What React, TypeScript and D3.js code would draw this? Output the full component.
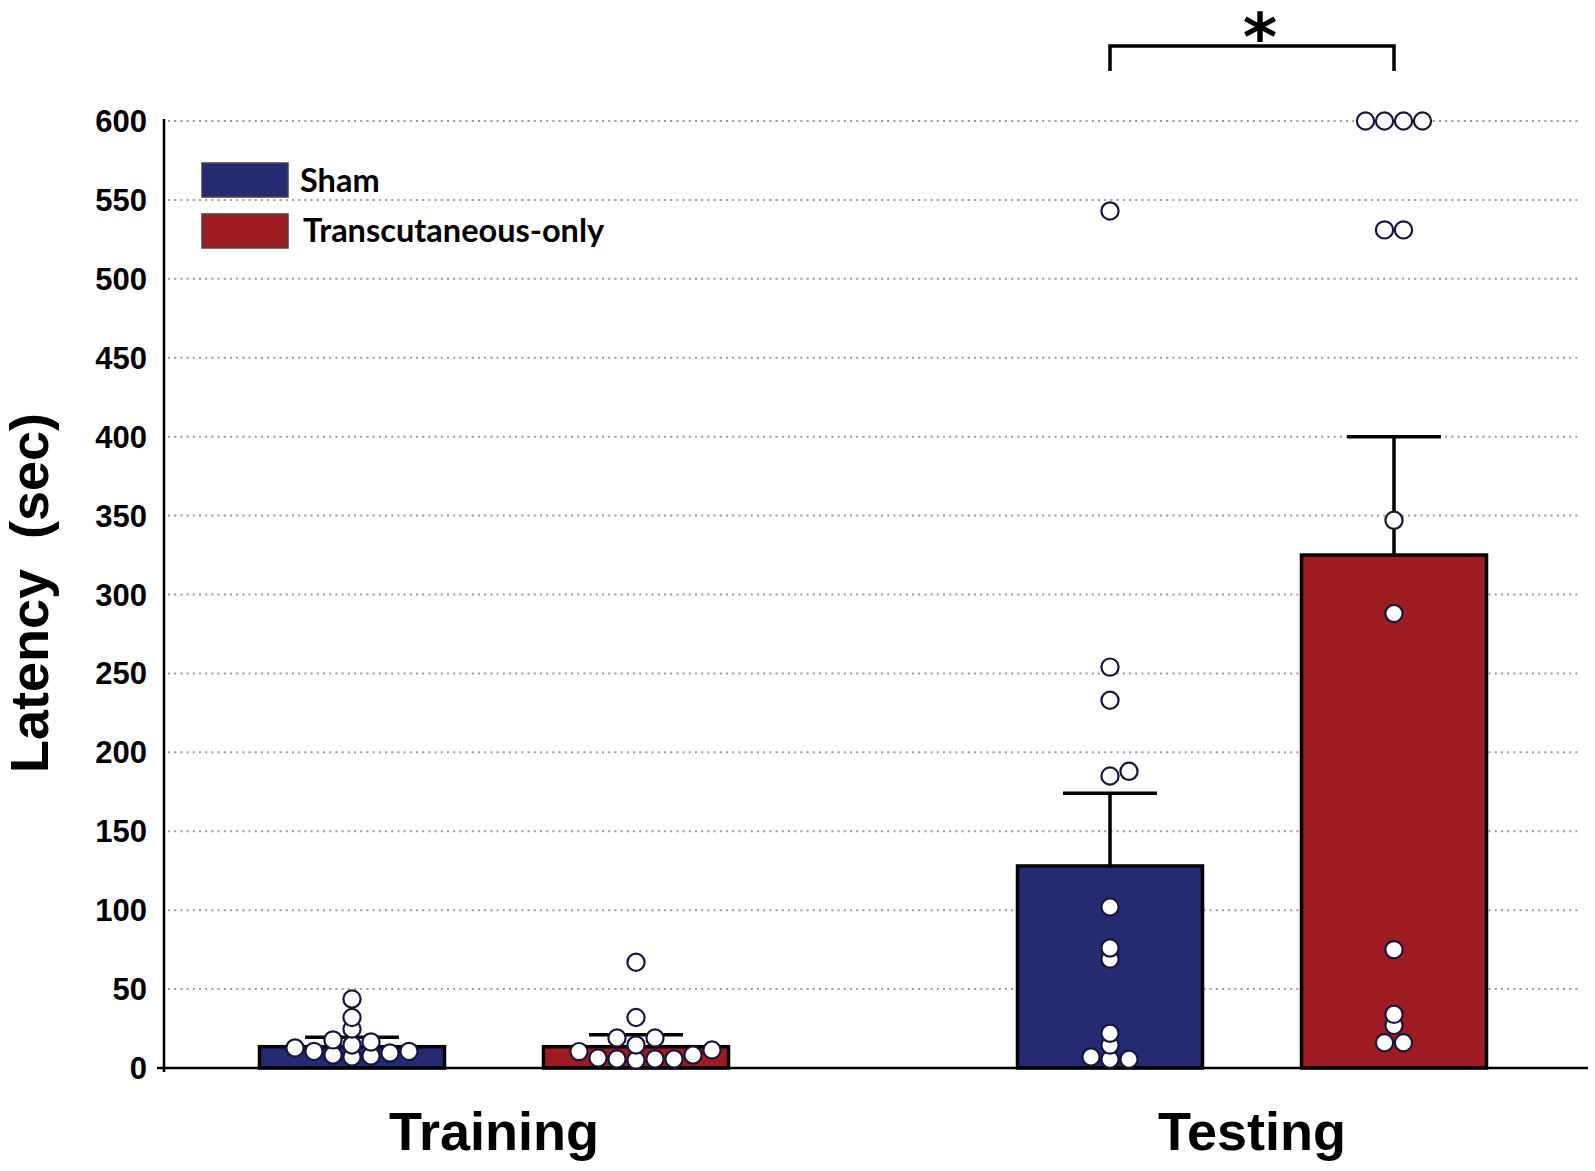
import React from "react";
import * as d3 from "d3";

// ---------- data ----------
const groups = ["Training", "Testing"];
const series = ["Sham", "Transcutaneous-only"];
const seriesColors = ["#262a72", "#9e1b22"];

const meanSham = [13.5, 128];
const semSham = [6, 46];
const meanTrans = [13.5, 325];
const semTrans = [7.5, 75];

const ptsShamTraining = [43.7, 32, 24.7, 17.8, 16.5, 14.6, 12.7, 10.5, 10.5, 9.5, 8.2, 7.6, 7];
const ptsTransTraining = [67, 32, 19, 19, 14.6, 11.4, 10.4, 8.2, 6.3, 5.7, 5.7, 5.7, 5];
const ptsShamTesting = [543, 254, 233, 188, 185, 102, 76, 69, 22, 14.5, 7, 5.5, 5.5];
const ptsTransTesting = [600, 600, 600, 600, 531, 531, 347, 288, 75, 34, 27, 16, 16];

const yTicks = [0, 50, 100, 150, 200, 250, 300, 350, 400, 450, 500, 550, 600];

const yLabel = "Latency  (sec)";
const sigLabel = "*";

// ---------- layout ----------
const W = 1595;
const H = 1171;
const axisX = 164;
const gridRight = 1578;
const axisRight = 1588;
const barW = 185;
const capW = 94;
const dotR = 8.6;
const dotStep = 19;
const minDist = 10.5;

const y = d3.scaleLinear().domain([0, 600]).range([1068, 121]);
const x0 = d3.scalePoint<string>().domain(groups).range([494, 1252]);
const x1 = d3.scalePoint<string>().domain(series).range([-142, 142]);

type P = { v: number; dx: number; py: number };

function collides(placed: P[], dx: number, py: number, skip: Set<P> = new Set()) {
  return placed.some((p) => !skip.has(p) && Math.hypot(p.dx - dx, p.py - py) < minDist);
}

function dodge(values: number[]): P[] {
  const sorted = [...values].sort((a, b) => a - b);
  const placed: P[] = [];
  for (const v of sorted) {
    const py = y(v);
    let k = 0;
    for (let i = 0; i < 40; i++) {
      const m = i === 0 ? 0 : i % 2 === 1 ? Math.ceil(i / 2) : -Math.ceil(i / 2);
      if (!collides(placed, m * dotStep, py)) {
        k = m;
        break;
      }
    }
    placed.push({ v, dx: k * dotStep, py });
  }
  // centre runs of identical values when it causes no new overlap
  const uniq = Array.from(new Set(sorted));
  for (const u of uniq) {
    const same = placed.filter((p) => p.v === u);
    if (same.length < 2) continue;
    const mean = d3.mean(same, (p) => p.dx) as number;
    if (Math.abs(mean) < 0.01) continue;
    const skip = new Set(same);
    const ok = same.every((p) => !collides(placed, p.dx - mean, p.py, skip));
    if (ok) same.forEach((p) => (p.dx -= mean));
  }
  return placed;
}

const pointSets = [
  [ptsShamTraining, ptsTransTraining],
  [ptsShamTesting, ptsTransTesting],
];
const means = [meanSham, meanTrans];
const sems = [semSham, semTrans];

const fontNum = "'Liberation Sans', Arial, Helvetica, sans-serif";
const fontLegend = "Lato, 'Open Sans', sans-serif";

export default function App() {
  const bars: React.ReactNode[] = [];
  const errs: React.ReactNode[] = [];
  const dots: React.ReactNode[] = [];

  groups.forEach((g, gi) => {
    series.forEach((s, si) => {
      const cx = (x0(g) as number) + (x1(s) as number);
      const m = means[si][gi];
      const top = m + sems[si][gi];
      bars.push(
        <rect
          key={`b-${g}-${s}`}
          x={cx - barW / 2}
          y={y(m)}
          width={barW}
          height={y(0) - y(m)}
          fill={seriesColors[si]}
          stroke="#000"
          strokeWidth={3.5}
        />
      );
      errs.push(
        <g key={`e-${g}-${s}`} stroke="#000" strokeWidth={3.5}>
          <line x1={cx} x2={cx} y1={y(m)} y2={y(top)} />
          <line x1={cx - capW / 2} x2={cx + capW / 2} y1={y(top)} y2={y(top)} />
        </g>
      );
      dodge(pointSets[gi][si]).forEach((p, i) => {
        dots.push(
          <circle
            key={`d-${g}-${s}-${i}`}
            cx={cx + p.dx}
            cy={y(p.v)}
            r={dotR}
            fill="#fff"
            stroke="#15173a"
            strokeWidth={2.2}
          />
        );
      });
    });
  });

  const sx1 = (x0("Testing") as number) + (x1("Sham") as number);
  const sx2 = (x0("Testing") as number) + (x1("Transcutaneous-only") as number);

  return (
    <svg
      width={W}
      height={H}
      viewBox={`0 0 ${W} ${H}`}
      style={{ position: "absolute", left: 0, top: 0, background: "#fff" }}
    >
      <rect x={0} y={0} width={W} height={H} fill="#fff" />
      {/* grid */}
      {yTicks
        .filter((t) => t > 0)
        .map((t) => (
          <line
            key={`g${t}`}
            x1={axisX + 4}
            x2={gridRight}
            y1={y(t)}
            y2={y(t)}
            stroke="#9a9a9a"
            strokeWidth={2}
            strokeDasharray="2 4.2"
          />
        ))}
      {/* tick labels */}
      {yTicks.map((t) => (
        <text
          key={`t${t}`}
          x={147}
          y={y(t) + 11}
          textAnchor="end"
          fontFamily={fontNum}
          fontWeight="bold"
          fontSize={31}
          fill="#000"
        >
          {t}
        </text>
      ))}
      {bars}
      {errs}
      {/* axes */}
      <line x1={axisX} x2={axisX} y1={y(600) - 2} y2={y(0) + 4} stroke="#000" strokeWidth={2.5} />
      <line x1={axisX - 7} x2={axisRight} y1={y(0)} y2={y(0)} stroke="#000" strokeWidth={2.5} />
      {dots}
      {/* group labels */}
      {groups.map((g) => (
        <text
          key={`gl${g}`}
          x={x0(g) as number}
          y={1150}
          textAnchor="middle"
          fontFamily={fontNum}
          fontWeight="bold"
          fontSize={54}
          fill="#000"
        >
          {g}
        </text>
      ))}
      {/* y label */}
      <text
        transform={`translate(48, 593) rotate(-90)`}
        textAnchor="middle"
        fontFamily={fontNum}
        fontWeight="bold"
        fontSize={54}
        fill="#000"
        style={{ whiteSpace: "pre" }}
      >
        {yLabel}
      </text>
      {/* legend */}
      {series.map((s, si) => (
        <g key={`lg${s}`}>
          <rect
            x={202}
            y={163 + si * 51}
            width={86}
            height={34}
            fill={seriesColors[si]}
            stroke="#444"
            strokeWidth={1.5}
          />
          <text
            x={si === 0 ? 300 : 303}
            y={192 + si * 50}
            fontFamily={fontLegend}
            fontWeight="bold"
            fontSize={32.5}
            fill="#000"
          >
            {s}
          </text>
        </g>
      ))}
      {/* significance bracket */}
      <path
        d={`M${sx1},${71} V${46} H${sx2} V${71}`}
        fill="none"
        stroke="#000"
        strokeWidth={3.5}
      />
      <text
        x={(sx1 + sx2) / 2 + 8}
        y={60}
        textAnchor="middle"
        fontFamily="'DejaVu Sans', sans-serif"
        fontWeight="bold"
        fontSize={66}
        fill="#000"
      >
        {sigLabel}
      </text>
    </svg>
  );
}
